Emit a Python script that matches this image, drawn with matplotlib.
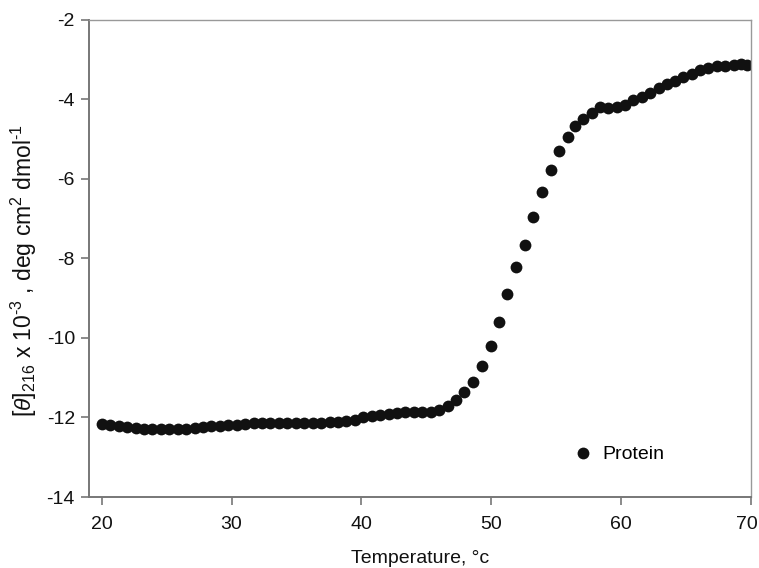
import matplotlib.pyplot as plt
import matplotlib.transforms as mtransforms

plt.rcParams['font.family'] = ['Liberation Sans', 'DejaVu Sans']
plt.rcParams['mathtext.fontset'] = 'custom'
plt.rcParams['mathtext.rm'] = 'Liberation Sans'
plt.rcParams['mathtext.it'] = 'Liberation Sans:italic'
plt.rcParams['axes.unicode_minus'] = False

# Temperature (°C) and mean residue ellipticity at 216 nm (x 10^-3)
temperature = [
    20.0, 20.65, 21.3, 21.95, 22.6, 23.25, 23.9, 24.55, 25.2, 25.85,
    26.5, 27.15, 27.8, 28.45, 29.1, 29.75, 30.4, 31.05, 31.7, 32.35,
    33.0, 33.65, 34.3, 34.95, 35.6, 36.25, 36.9, 37.55, 38.2, 38.85,
    39.5, 40.15, 40.8, 41.45, 42.1, 42.75, 43.4, 44.05, 44.7, 45.35,
    46.0, 46.65, 47.3, 47.95, 48.6, 49.27, 49.99, 50.63, 51.25, 51.92,
    52.59, 53.26, 53.92, 54.59, 55.26, 55.9, 56.47, 57.06, 57.75, 58.4,
    59.04, 59.68, 60.3, 60.97, 61.6, 62.25, 62.9, 63.54, 64.18, 64.8,
    65.47, 66.1, 66.75, 67.4, 68.0, 68.7, 69.25, 69.7,
]
theta = [
    -12.17, -12.20, -12.22, -12.24, -12.27, -12.29, -12.30, -12.30, -12.30, -12.30,
    -12.29, -12.27, -12.24, -12.22, -12.21, -12.20, -12.18, -12.16, -12.14, -12.13,
    -12.13, -12.13, -12.13, -12.13, -12.13, -12.13, -12.13, -12.12, -12.11, -12.09,
    -12.07, -12.00, -11.97, -11.95, -11.91, -11.88, -11.86, -11.85, -11.85, -11.85,
    -11.80, -11.70, -11.56, -11.35, -11.10, -10.70, -10.20, -9.59, -8.90, -8.21,
    -7.67, -6.96, -6.33, -5.77, -5.31, -4.94, -4.67, -4.49, -4.35, -4.20,
    -4.22, -4.18, -4.14, -4.01, -3.93, -3.83, -3.72, -3.62, -3.53, -3.44,
    -3.36, -3.27, -3.22, -3.17, -3.15, -3.13, -3.12, -3.13,
]

fig = plt.figure(figsize=(7.59, 5.68), dpi=100)
ax = fig.add_axes([0.117, 0.125, 0.872, 0.840])

ax.plot(temperature, theta, 'o', color='#111111', markersize=8.5,
        markeredgewidth=0, label='Protein')

ax.set_xlim(19, 70)
ax.set_ylim(-14, -2)
ax.set_xticks([20, 30, 40, 50, 60, 70])
ax.set_yticks([-14, -12, -10, -8, -6, -4, -2])

for side in ['left', 'bottom']:
    ax.spines[side].set_color('#777777')
    ax.spines[side].set_linewidth(1.4)
for side in ['top', 'right']:
    ax.spines[side].set_color('#999999')
    ax.spines[side].set_linewidth(1.0)
ax.tick_params(direction='out', length=6, width=1.2, color='#777777',
               labelsize=14, labelcolor='#111111')
ax.tick_params(axis='x', pad=8)
ax.tick_params(axis='y', pad=4)

# last x label sits a little left of its tick so it stays inside the figure
last = ax.get_xticklabels()[-1]
last.set_transform(last.get_transform() +
                   mtransforms.ScaledTranslation(-4 / 100, 0, fig.dpi_scale_trans))

ax.set_xlabel('Temperature, °c', fontsize=14, color='#111111', labelpad=12)
ax.set_ylabel(r'$[\mathit{\theta}]_{216}$ x 10$^{\text{-3}}$ , deg cm$^{2}$ dmol$^{\text{-1}}$',
              fontsize=16.5, color='#111111')
ax.yaxis.set_label_coords(-0.075, 0.475)

ax.legend(loc='lower left', bbox_to_anchor=(0.703, 0.05), frameon=False,
          fontsize=14, handletextpad=0.0, markerscale=1.0, borderpad=0)

fig.savefig('out.png', dpi=100)
